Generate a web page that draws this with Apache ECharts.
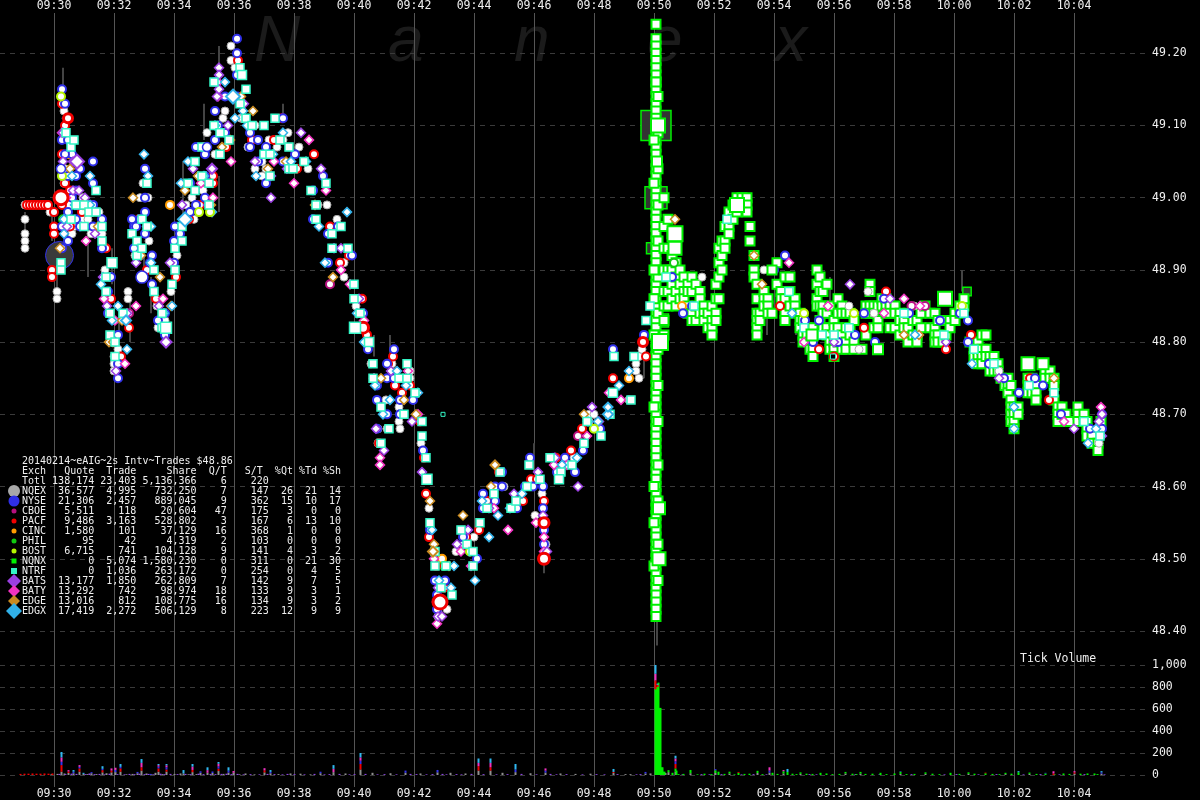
<!DOCTYPE html>
<html><head><meta charset="utf-8">
<style>html,body{margin:0;padding:0;background:#000}#c{width:1200px;height:800px}</style>
<script src="https://cdn.jsdelivr.net/npm/echarts@6/dist/echarts.min.js"></script>
</head><body><div id="c"></div>
<script>
// Time is seconds from 09:30:00, price is in cents. Each row: [second, cents, cents, ...]
const exchNames = ['NQEX','NYSE','CBOE','PACF','CINC','PHIL','BOST','NQNX','NTRF','BATS','BATY','EDGE','EDGX'];
const quotes = ['36,577','21,306','5,511','9,486','1,580','95','6,715','0','0','13,177','13,292','13,016','17,419'];
const trades = ['4,995','2,457','118','3,163','101','42','741','5,074','1,036','1,850','742','812','2,272'];
const shares = ['732,250','889,045','20,604','528,802','37,129','4,319','104,128','1,580,230','263,172','262,809','98,974','108,775','506,129'];
const qPerT = ['7','9','47','3','16','2','9','0','0','7','18','16','8'];
const sPerT = ['147','362','175','167','368','103','141','311','254','142','133','134','223'];
const pctQt = ['26','15','3','6','1','0','4','0','0','9','9','9','12'];
const pctTd = ['21','10','0','13','0','0','3','21','4','7','3','3','9'];
const pctSh = ['14','17','0','10','0','0','2','30','5','5','1','2','9'];
const totals = ['Totl','138,174','23,403','5,136,366','6','220'];
const titleText = '20140214~eAIG~2s Intv~Trades $48.86';
const watermark = ['N','a','n','e','x'];

const nqex = [[-58,4899,4897,4895,4894,4893],[-8,4898],[6,4887,4886],[20,4912,4902,4896],[30,4906,4899],[40,4896],[58,4900,4897],[74,4895],[90,4898,4895],[102,4890],[120,4883,4878,4877,4876],[148,4887,4886,4884],[162,4892],[178,4902],[190,4894],[206,4885],[222,4883],[234,4887],[246,4892],[264,4899],[280,4897],[298,4901],[306,4909],[326,4906],[338,4911],[354,4921,4919],[362,4918],[374,4911],[388,4907],[402,4910,4904],[416,4905,4903],[430,4908],[446,4907],[468,4909],[490,4907],[508,4904],[528,4899],[546,4899],[566,4897],[580,4891,4889],[604,4885],[634,4877],[648,4868,4866],[664,4872],[676,4877],[690,4871,4869],[712,4876,4875],[734,4866],[750,4857],[768,4843,4842],[786,4843],[804,4851],[820,4852],[840,4853],[860,4857],[878,4860],[900,4860],[932,4858],[950,4860],[962,4856],[976,4859],[984,4852],[1040,4864],[1070,4870,4869],[1080,4870],[1150,4872],[1164,4877,4876],[1170,4878,4875],[1176,4879],[1296,4889],[1420,4890],[1610,4879],[1640,4884],[1720,4885],[1890,4876],[1960,4875],[2090,4866],[22,4904],[36,4895],[68,4897],[96,4895],[108,4886],[128,4879],[172,4900],[188,4900],[208,4882],[276,4900],[322,4906],[342,4912],[378,4911],[424,4904],[458,4908],[666,4868],[692,4868],[1628,4887],[1590,4885]];
const nyse = [[16,4915,4908,4903,4896,4893],[28,4908,4903,4898],[36,4906,4900],[44,4901,4897],[52,4904,4899,4896],[78,4905,4902,4899,4896],[96,4893],[108,4887,4884],[128,4881,4877,4875],[160,4896,4893],[172,4897,4892],[182,4900,4895],[196,4892,4888],[208,4883],[222,4884,4881],[240,4894,4891],[252,4895],[272,4902,4898],[284,4907,4899],[302,4906,4900],[322,4912,4908],[342,4914,4909],[366,4922],[392,4909],[408,4908,4905],[424,4907,4902],[458,4911,4905],[482,4906],[518,4901,4897],[538,4903],[548,4895,4891],[568,4896],[596,4892],[618,4884],[628,4879],[646,4872,4868],[666,4875,4870],[680,4879,4875],[692,4872],[718,4872],[738,4865],[752,4854],[766,4845],[782,4847],[818,4853],[832,4851],[846,4850],[858,4859,4857],[882,4860,4858],[896,4862,4860],[926,4857],[942,4860],[952,4864],[958,4860],[978,4860,4857],[980,4854,4852],[998,4864],[1006,4862],[1022,4864],[1042,4862],[1058,4865],[1092,4868],[1118,4879],[1180,4881],[1462,4892],[1502,4883],[1518,4880],[1568,4880],[1602,4881],[1642,4880],[1710,4884],[1812,4884],[1828,4883,4880],[1900,4875],[1962,4875],[2014,4870],[2096,4870,4868],[22,4913,4906],[28,4894],[44,4903],[68,4899],[96,4897],[114,4889],[120,4880],[156,4897],[164,4896],[182,4904,4898],[192,4891],[242,4896],[302,4903],[322,4916],[328,4910],[366,4920,4917,4914],[392,4907],[646,4874],[666,4877],[692,4870],[762,4847],[766,4843],[1236,4889],[1258,4884],[1276,4885],[1440,4890],[1530,4883],[1620,4884],[1660,4886],[1772,4883],[1870,4877],[1930,4873],[1978,4874],[2072,4868]];
const pacf = [[-54,4899],[-48,4899],[-42,4899],[-36,4899],[-30,4899],[-24,4899],[-18,4899],[-12,4899],[0,4898,4896,4895],[-4,4890,4889],[16,4913,4906,4899],[22,4910,4902],[32,4901,4896],[56,4898],[76,4899],[104,4893],[114,4886],[134,4878],[150,4882],[170,4897],[186,4890],[204,4886],[226,4882],[244,4889],[270,4897],[292,4899],[318,4902,4903],[344,4907],[368,4919],[396,4908],[440,4908],[456,4911],[486,4904],[520,4906],[552,4896],[572,4891],[590,4892],[616,4886],[626,4881],[650,4866],[668,4877],[678,4878],[682,4874],[696,4873],[712,4874],[732,4869],[740,4864],[744,4859],[750,4853],[764,4849],[780,4846],[824,4853],[850,4854],[866,4858],[890,4862],[938,4858],[954,4861],[966,4861],[980,4858],[1004,4864],[1034,4865],[1056,4868],[1118,4875,4873],[1184,4878],[1452,4885],[1530,4879],[1560,4878],[1620,4882],[1664,4887],[1784,4879],[1834,4881],[1952,4875],[1990,4872]];
const bats = [[12,4900],[18,4909,4905],[26,4896],[38,4905,4901],[50,4901],[62,4900],[82,4895],[98,4889],[106,4885],[124,4876],[146,4884],[164,4891],[186,4896],[210,4885],[232,4891],[256,4899],[278,4904],[308,4899],[326,4914],[330,4918,4917,4915],[348,4910],[380,4913],[402,4905],[434,4903,4900],[466,4904],[494,4909],[534,4904],[560,4893],[574,4893],[610,4886],[644,4868],[660,4865],[674,4876],[716,4869],[736,4862],[768,4846,4842],[776,4842],[806,4852],[828,4854],[870,4857],[920,4859],[968,4862],[978,4856],[986,4851],[1002,4864],[1048,4860],[1076,4871],[1090,4869],[1560,4880],[1592,4888],[1672,4886],[1784,4880],[1890,4875],[2040,4868],[2090,4869],[2096,4870,4867]];
const baty = [[16,4909],[24,4900],[46,4899],[64,4894],[100,4886],[122,4883],[142,4877],[164,4885],[218,4886],[294,4902],[318,4900],[328,4916,4914],[354,4905],[440,4905],[480,4902],[510,4908],[544,4901],[574,4890],[592,4888],[620,4883],[640,4875],[652,4864,4863],[708,4876],[728,4870],[760,4850],[766,4844,4841],[814,4851],[834,4849],[880,4857],[908,4854],[964,4855],[980,4853,4851],[1000,4863],[1026,4863],[1066,4867],[1110,4873],[1134,4872],[1470,4891],[1500,4880],[1548,4885],[1660,4884],[1700,4886],[1732,4885],[2020,4869],[2094,4871]];
const edge = [[12,4893],[32,4904],[58,4899],[88,4896],[110,4880],[118,4880],[136,4883],[158,4900],[174,4892],[212,4889],[234,4885],[262,4901],[288,4903],[314,4899],[336,4907],[352,4908],[374,4914],[398,4912],[428,4904],[464,4905],[522,4899],[558,4889],[654,4875],[700,4872],[724,4870],[752,4858],[760,4852],[790,4849],[818,4856],[874,4860],[1060,4870],[1242,4897],[1400,4892],[1416,4888],[1700,4881],[1730,4881],[2000,4875]];
const edgx = [[20,4897,4895],[36,4903],[42,4899],[72,4899],[94,4888],[116,4883],[128,4885],[146,4879],[180,4906],[194,4896,4891],[220,4884],[254,4902],[268,4905],[300,4903],[316,4898],[322,4910],[362,4911],[386,4910],[404,4903],[438,4906],[474,4905],[504,4905],[530,4896],[542,4891],[586,4898],[606,4884],[620,4880],[642,4874],[658,4870],[672,4872],[704,4874],[728,4873],[756,4854],[770,4847],[794,4846],[800,4849],[842,4847],[856,4858],[870,4853],[888,4856],[912,4857],[936,4859],[1016,4863],[1046,4864],[1068,4869],[1088,4869],[1130,4874],[1150,4876],[1476,4884],[1722,4881],[1836,4877],[1920,4871],[1920,4868],[2068,4866],[2084,4868],[26,4911],[72,4903],[188,4903],[236,4885],[342,4916],[378,4912],[458,4909],[686,4876]];
const cboe = [[8,4900],[150,4884],[300,4907],[552,4888],[1048,4867],[1742,4885],[1715,4885]];
const cinc = [[30,4906],[232,4899],[776,4850],[1150,4875],[1256,4885]];
const phil = [[18,4897],[780,4849],[1240,4891]];
const bost = [[14,4914],[16,4903],[290,4898],[312,4898],[832,4851],[1080,4868],[1500,4884],[1600,4884],[1816,4885]];
const nqnx = [[1204,4924,4922,4921,4920,4919,4918,4917,4916,4915,4914,4913,4912,4911,4910,4909,4908,4907,4906,4905,4904,4903,4902,4901,4900,4899,4898,4897,4896,4895,4894,4893,4892,4891,4890,4889,4888,4887,4886,4885,4884,4883,4882,4881,4880,4879,4878,4877,4876,4875,4874,4873,4872,4871,4870,4869,4868,4867,4866,4865,4864,4863,4862,4861,4860,4859,4858,4857,4856,4855,4854,4853,4852,4851,4850,4849,4848,4847,4846,4845,4844,4843,4842],[1208,4914,4909,4904,4899,4894,4889,4884,4879,4874,4869,4863,4858,4852,4847],[1200,4908,4902,4890,4886,4881,4871,4860,4855,4849],[1220,4900,4896,4893,4890,4887,4885,4883,4881],[1228,4897,4893,4890,4889,4887,4885],[1236,4895,4892,4890,4888,4886],[1244,4894,4891,4889,4887,4885],[1252,4890,4888,4886],[1260,4889,4887,4886],[1268,4888,4887,4885,4884],[1276,4889,4887,4884,4883],[1284,4888,4885,4883],[1292,4887,4886,4884],[1300,4885,4884,4883],[1308,4884,4882],[1316,4885,4883,4882,4881],[1324,4888,4886,4884,4883],[1330,4893,4891,4889,4886],[1336,4894,4892,4890],[1342,4896,4894,4893],[1350,4898,4896,4895],[1358,4899,4897],[1366,4900,4898],[1376,4900,4899],[1386,4900,4899,4898],[1392,4896,4894],[1400,4892,4890,4889],[1406,4888,4886,4884,4883,4882,4881],[1412,4884,4883],[1420,4887,4886,4885],[1428,4886,4885,4884],[1436,4884],[1446,4891,4888],[1454,4887,4886],[1462,4889,4886,4884,4883],[1472,4889,4887,4885],[1482,4886,4885,4884],[1492,4884,4883,4882],[1498,4883,4881,4880],[1506,4882,4881],[1512,4880,4879],[1518,4882,4881,4879,4878],[1526,4890,4888,4886,4885],[1532,4889,4887,4885,4883],[1538,4887,4885,4884,4882],[1546,4888,4884,4882,4881],[1552,4885,4881,4880,4879],[1560,4883,4882,4880,4879,4878],[1568,4886,4884,4882,4880],[1576,4885,4884,4881,4879],[1584,4884,4882,4880,4879],[1592,4884,4882,4881],[1600,4883,4880,4879],[1616,4879],[1624,4885,4884,4881],[1632,4888,4887,4885,4884],[1640,4885,4884,4882],[1648,4885,4883,4882],[1656,4886,4885],[1664,4886,4885,4884],[1672,4885,4884,4882],[1682,4885,4884,4882],[1692,4884,4883,4881],[1700,4883,4882],[1708,4884,4882,4880],[1718,4883,4881],[1726,4883,4881,4880],[1734,4884,4882],[1742,4885],[1752,4884,4882],[1762,4884,4882,4881,4880],[1768,4883,4881,4880],[1778,4880],[1784,4883,4881],[1792,4883,4882],[1802,4884,4883],[1812,4884,4885],[1820,4885,4886],[1832,4880],[1840,4879,4878],[1848,4880,4879,4878,4877],[1856,4881,4879,4878,4877],[1864,4881,4879,4878],[1872,4878,4877,4876],[1880,4878,4877,4876],[1888,4877,4876],[1894,4875],[1902,4874],[1908,4875,4874,4873],[1914,4874,4872,4871,4870,4869],[1920,4871,4870,4869,4868],[1928,4871,4870],[1948,4875,4874,4873],[1956,4875,4873],[1964,4874,4873,4872],[1982,4876,4875],[1992,4876,4875],[2000,4875,4874,4872],[2008,4871,4870,4869],[2016,4871,4870],[2024,4870,4869],[2032,4869],[2048,4871,4870,4869],[2060,4870,4869],[2066,4869,4868,4867],[2076,4867,4866],[2088,4866,4865],[2094,4869]];
const ntrf = [[14,4891,4890],[24,4909],[34,4907,4897],[44,4899],[60,4899,4896],[70,4898],[84,4901,4898],[96,4896,4894],[104,4889,4887],[112,4884,4881],[122,4880,4878],[138,4884],[156,4895],[166,4894,4892],[176,4897,4893],[186,4902,4896],[200,4890,4887],[216,4884,4882],[236,4888],[242,4893,4890],[256,4896,4894],[268,4902],[282,4905,4901],[296,4907,4903],[310,4902,4899],[320,4916,4910],[332,4909,4906],[350,4908],[372,4918,4913],[384,4915,4911],[396,4910],[420,4910,4906],[432,4906,4903],[442,4911],[452,4908],[470,4907,4904],[478,4904],[500,4905],[514,4901],[524,4899,4897],[544,4902],[556,4895,4893],[574,4896],[588,4893],[600,4888,4886],[612,4884],[638,4877,4875],[654,4871,4866],[670,4868],[690,4875],[700,4870],[706,4877,4875],[722,4873],[736,4869,4867],[744,4864],[752,4855],[762,4851,4849],[774,4846],[784,4849],[796,4845],[814,4854],[826,4852],[838,4851,4849],[852,4855],[866,4857],[880,4859],[892,4862],[914,4857],[924,4858],[946,4860],[950,4863],[972,4861],[992,4864],[1014,4862],[1036,4863],[1060,4866],[1066,4869],[1094,4867],[1112,4870],[1120,4878],[1154,4872],[1160,4878],[1184,4883],[1192,4885],[1224,4889],[1240,4893],[1280,4885],[1346,4897],[1372,4899],[1470,4887],[1500,4882],[1536,4881],[1560,4881],[1590,4882],[1700,4884],[1780,4881],[1820,4884],[1840,4879],[1880,4877],[1950,4874],[2000,4873],[2060,4869],[2092,4867]];

// Large prints: [second, cents, shares]
const nyseBlocks = [[14,4904,8100],[176,4889,14400],[306,4907,8100]];
const pacfBlocks = [[14,4900,19600],[28,4911,8100],[618,4882,12100],[772,4844,19600],[980,4850,12100],[980,4855,10000],[1178,4880,8100]];
const ntrfBlocks = [[40,4908,6400],[116,4891,10000],[224,4882,12100],[376,4917,8100],[602,4882,12100],[630,4880,8100],[746,4861,10000],[1118,4873,8100],[1010,4861,8100]];
const batsBlocks = [[46,4905,19600],[224,4880,12100],[316,4904,10000]];
const edgxBlocks = [[144,4883,10000],[262,4897,19600],[358,4914,19600],[1108,4870,10000],[1108,4871,8100]];
const edgeBlocks = [[758,4851,10000],[882,4863,8100]];
const nqnxBlocks = [[1204,4916,8100],[1208,4910,19600],[1206,4905,10000],[1212,4880,25600],[1210,4857,14400],[1210,4850,16900],[1242,4895,22500],[1242,4893,16900],[1366,4899,19600],[1782,4886,19600],[1948,4877,16900],[1978,4877,12100],[1516,4881,12100],[1648,4879,10000],[1436,4890,8100]];
const nyseOpenBlock = [[11,4892,78400]];
const nqnxDarkBlocks = [[1204,4910,90000],[1204,4900,48400],[1216,4883,16900],[1196,4893,12100],[1826,4887,7000]];
const ntrfHollow = [[778,4870,1600],[1558,4878,2500]];
const wicks = [[-58,4898,4893],[-4,4899,4894],[6,4893,4886],[18,4918,4915],[68,4895,4889],[116,4893,4888],[130,4885,4878],[152,4886,4880],[180,4893,4890],[194,4889,4884],[258,4905,4897],[330,4921,4918],[458,4913,4911],[300,4913,4908],[330,4903,4898],[640,4881,4878],[672,4881,4877],[980,4850,4848],[1180,4879,4875],[1426,4885,4881],[1484,4885,4881],[1816,4890,4887],[1552,4889,4883],[1206,4842,4838],[960,4866,4862]];

// Tick volume per exchange: [second, trades]
const volGray = [[-6,8],[6,10],[14,30],[20,14],[28,18],[38,16],[50,30],[58,10],[66,8],[74,16],[84,8],[96,24],[104,16],[114,24],[122,26],[132,30],[144,6],[156,10],[166,16],[174,40],[184,14],[194,6],[202,20],[208,30],[216,8],[224,30],[240,10],[252,14],[258,14],[268,6],[276,26],[284,8],[292,20],[306,20],[316,18],[328,36],[338,10],[348,22],[358,20],[370,6],[382,14],[400,6],[420,24],[432,16],[448,8],[472,14],[492,12],[512,6],[532,16],[558,26],[582,14],[612,50],[636,20],[672,16],[702,20],[732,14],[766,24],[792,20],[822,14],[848,40],[872,40],[896,20],[922,26],[952,16],[982,22],[1012,14],[1042,10],[1072,12],[1118,18],[1142,8],[1152,8],[1182,14],[1192,14],[1222,18],[1228,26],[1242,30],[1272,16],[1322,18],[1350,14],[1406,18],[1430,22],[1458,14],[1492,10],[1582,14],[1612,12],[1692,10],[1742,10],[1828,10],[1902,8],[1950,10],[2040,12],[2094,12]];
const volGreen = [[1202,780],[1204,800],[1206,800],[1208,840],[1210,610],[1212,610],[1214,70],[1216,70],[1218,30],[1220,30],[1228,18],[1236,20],[1242,30],[1244,40],[1272,30],[1322,25],[1328,30],[1350,16],[1368,20],[1406,20],[1436,20],[1458,20],[1466,28],[1492,14],[1532,20],[1582,14],[1612,16],[1652,20],[1692,20],[1742,14],[1792,20],[1828,14],[1862,16],[1902,12],[1928,25],[1950,12],[1982,14],[2018,14],[2066,14],[2080,14],[1248,8],[1258,10],[1286,6],[1300,12],[1314,8],[1340,10],[1360,6],[1380,10],[1390,12],[1416,8],[1446,10],[1476,12],[1484,8],[1504,12],[1516,10],[1544,14],[1556,8],[1570,10],[1596,12],[1604,8],[1622,10],[1636,12],[1664,8],[1680,14],[1704,8],[1720,10],[1756,12],[1770,8],[1810,10],[1840,12],[1876,10],[1890,8],[1914,12],[1964,10],[2000,8],[2030,10],[2052,12],[2086,8]];
const volRed = [[-68,10],[-60,12],[-52,12],[-44,14],[-36,12],[-28,12],[-20,14],[-12,12],[-4,14],[14,60],[28,14],[50,30],[96,20],[114,16],[132,30],[174,30],[208,30],[224,20],[276,20],[328,22],[420,18],[612,50],[848,40],[872,30],[1118,10],[1202,80],[1206,20],[1242,40],[1368,8],[1862,6],[1998,14],[2040,12]];
const volBlue = [[14,30],[38,14],[50,14],[74,10],[96,12],[122,20],[132,14],[166,12],[192,10],[208,16],[224,20],[292,14],[316,14],[328,20],[348,18],[432,12],[532,14],[612,30],[702,20],[766,22],[922,24],[982,18],[1182,14],[1242,24],[1322,10],[1430,18],[1692,5],[1982,6],[2094,12]];
const volPurple = [[10,10],[22,8],[34,12],[44,10],[62,8],[70,14],[80,8],[90,10],[100,6],[110,12],[126,8],[140,6],[150,10],[160,8],[170,12],[180,8],[188,10],[198,6],[212,12],[220,8],[232,10],[246,8],[262,10],[272,8],[288,12],[298,8],[312,10],[322,8],[334,10],[344,12],[354,8],[366,10],[378,6],[392,8],[410,6],[426,10],[440,8],[456,6],[466,10],[480,8],[500,6],[520,10],[540,6],[550,8],[570,10],[590,6],[600,8],[622,10],[646,6],[660,8],[684,6],[712,10],[724,8],[744,6],[756,8],[776,10],[784,6],[804,8],[814,6],[834,10],[858,8],[884,6],[906,8],[934,10],[964,6],[992,10],[1004,6],[1024,8],[1056,6],[1084,8],[1100,6],[1126,8],[1164,6],[1172,8],[1256,6],[1294,8],[1310,6],[1334,8],[1374,6],[1398,8],[1424,6],[1510,8],[1524,6],[1602,8],[1650,6],[1714,8],[1780,6],[1804,8],[1848,6],[1884,8],[1938,6],[1972,8],[2010,6],[2060,8],[2100,6]];
const volPink = [[14,40],[28,12],[50,16],[114,20],[122,20],[174,40],[208,14],[224,18],[276,30],[306,24],[328,24],[358,16],[420,20],[558,30],[612,30],[848,30],[872,40],[982,20],[1202,60],[1242,26],[1430,30],[1458,11],[1998,20],[2040,11]];
const volCyan = [[14,49],[38,15],[58,10],[96,24],[132,26],[174,35],[208,10],[224,12],[258,31],[276,24],[306,26],[328,16],[348,30],[432,17],[558,34],[612,40],[848,40],[872,40],[922,50],[1118,27],[1202,107],[1206,10],[1242,25],[1466,27],[1928,10],[2094,11]];

const cents = c => +(c / 100).toFixed(2);
const flat = rows => rows.flatMap(r => r.slice(1).map(c => [r[0], cents(c)]));
const blocks = rows => rows.map(r => [r[0], cents(r[1]), r[2]]);
const blockSize = v => Math.sqrt(v[2]) / 10;
const MONO = '"DejaVu Sans Mono","Liberation Mono",monospace';
const palette = {NQEX:'#a8a8a8',NYSE:'#2f2fe8',CBOE:'#b5107f',PACF:'#f00000',CINC:'#ff9c00',PHIL:'#10c810',BOST:'#b4f500',NQNX:'#00f000',NTRF:'#33f5c5',BATS:'#9a3fe0',BATY:'#f032c0',EDGE:'#c88a20',EDGX:'#30b0e8'};
const diamond = 'diamond', dot = 'circle', box = 'rect';

const binTimes = [];
for (let t = -108; t < 2186; t += 2) binTimes.push(t);
const toBins = rows => { const m = new Map(rows); return binTimes.map(t => m.get(t) || 0); };

function tradeSeries(name, rows, symbol, size, lw){
  return {type:'scatter',name,xAxisIndex:0,yAxisIndex:0,symbol,symbolSize:size,data:flat(rows),animation:false,silent:true,
    itemStyle:{color:'#fff',borderColor:palette[name],borderWidth:lw,opacity:1}};
}
function blockSeries(name, rows, symbol, lw, fill){
  return {type:'scatter',name:name+' blocks',xAxisIndex:0,yAxisIndex:0,symbol,symbolSize:blockSize,data:blocks(rows),animation:false,silent:true,
    itemStyle:{color:fill||'#fff',borderColor:palette[name],borderWidth:lw,opacity:1}};
}
function volSeries(name, rows, color){
  return {type:'bar',name:'vol '+name,xAxisIndex:1,yAxisIndex:1,stack:'v',barWidth:2,data:toBins(rows),animation:false,silent:true,itemStyle:{color}};
}
const wickSeries = {type:'custom',xAxisIndex:0,yAxisIndex:0,silent:true,animation:false,clip:false,
  data:wicks.map(r=>[r[0],cents(r[1]),cents(r[2])]),
  renderItem:(p,api)=>{const a=api.coord([api.value(0),api.value(1)]),b=api.coord([api.value(0),api.value(2)]);
    return {type:'line',shape:{x1:a[0],y1:a[1],x2:b[0],y2:b[1]},style:{stroke:'#444',lineWidth:2}};}};

const series = [
  wickSeries,
  blockSeries('NYSE',nyseOpenBlock,dot,1,'#3a3a3a'),
  blockSeries('NQNX',nqnxDarkBlocks,box,1.5,'#333'),
  tradeSeries('NQNX',nqnx,box,9,2),
  tradeSeries('NQEX',nqex,dot,8,1),
  tradeSeries('CBOE',cboe,dot,8,2),
  tradeSeries('CINC',cinc,dot,8,2),
  tradeSeries('PHIL',phil,dot,8,2),
  tradeSeries('PACF',pacf,dot,8,2),
  tradeSeries('NYSE',nyse,dot,8,2),
  tradeSeries('BATY',baty,diamond,9,1.5),
  tradeSeries('BATS',bats,diamond,9,1.5),
  tradeSeries('EDGE',edge,diamond,9,1.5),
  tradeSeries('EDGX',edgx,diamond,9,1.5),
  tradeSeries('BOST',bost,dot,8,2),
  tradeSeries('NTRF',ntrf,box,8,1.5),
  blockSeries('NQNX',nqnxBlocks,box,2),
  blockSeries('NYSE',nyseBlocks,dot,1.5),
  blockSeries('PACF',pacfBlocks,dot,3),
  blockSeries('NTRF',ntrfBlocks,box,1.5),
  blockSeries('BATS',batsBlocks,diamond,2),
  blockSeries('EDGX',edgxBlocks,diamond,2),
  blockSeries('EDGE',edgeBlocks,diamond,2),
  blockSeries('NTRF',ntrfHollow,box,1,'#000'),
  volSeries('NQEX',volGray,'#909090'),volSeries('BATS',volPurple,'#8a45e0'),volSeries('NQNX',volGreen,palette.NQNX),volSeries('PACF',volRed,'#f00000'),
  volSeries('NYSE',volBlue,'#3333ee'),volSeries('BATY',volPink,palette.BATY),volSeries('EDGX',volCyan,'#30b8f0')
];

// Exchange table built from the arrays above
const pad = (s,n) => String(s).padStart(n,' ');
const rowStr = (n,q,t,sh,qt,st,a,b,c) => n+pad(q,8)+pad(t,7)+pad(sh,10)+pad(qt,5)+pad(st,7)+pad(a,4)+pad(b,4)+pad(c,4);
const rows = [titleText, 'Exch   Quote  Trade     Share  Q/T   S/T  %Qt %Td %Sh', rowStr(...totals,'','','')];
exchNames.forEach((n,i)=>rows.push(rowStr(n,quotes[i],trades[i],shares[i],qPerT[i],sPerT[i],pctQt[i],pctTd[i],pctSh[i])));
const graphic = rows.map((t,i)=>({type:'text',x:22,y:461+i*10,z:5,style:{text:t,fill:'#f0f0f0',font:'10px '+MONO,textVerticalAlign:'middle'}}));
const markStyle = ['c6','c5.5','c2.5','c2.5','c2.5','c2.5','c2.5','r5','r6','d7','d6','d6','d8'];
exchNames.forEach((n,i)=>{
  const cy = 491+i*10, cx = 14, k = markStyle[i][0], r = parseFloat(markStyle[i].slice(1)), fill = palette[n];
  if(k==='c') graphic.push({type:'circle',z:5,shape:{cx,cy,r},style:{fill}});
  if(k==='r') graphic.push({type:'rect',z:5,shape:{x:cx-r/2,y:cy-r/2,width:r,height:r},style:{fill}});
  if(k==='d') graphic.push({type:'polygon',z:5,shape:{points:[[cx,cy-r],[cx+r,cy],[cx,cy+r],[cx-r,cy]]},style:{fill}});
});
const wmX = [254,388,514,647,775];
watermark.forEach((t,i)=>graphic.push({type:'text',x:wmX[i],y:75,z:-1,style:{text:t,fill:'#1b1b1b',font:'italic 64px "Liberation Sans",sans-serif',textVerticalAlign:'bottom'}}));
graphic.push({type:'text',x:1020,y:659,z:5,style:{text:'Tick Volume',fill:'#f0f0f0',font:'11.5px '+MONO,textVerticalAlign:'middle'}});

const clock = s => { if(s<0) return ''; const m=570+s/60; return String(Math.floor(m/60)).padStart(2,'0')+':'+String(Math.round(m%60)).padStart(2,'0'); };
const dash = {show:true,lineStyle:{color:'#3a3a3a',type:[5,5],width:1}};
const labelCommon = {color:'#f0f0f0',fontFamily:MONO,fontSize:11.5};
const timeAxis = (position,margin) => ({type:'value',gridIndex:2,position,min:-120,max:2040,interval:120,axisLine:{show:false},axisTick:{show:false},
  splitLine:{show:position==='bottom',lineStyle:{color:'#555',width:1}},axisLabel:{...labelCommon,margin,formatter:clock,showMinLabel:false}});

const chart = echarts.init(document.getElementById('c'),null,{renderer:'canvas',width:1200,height:800});
chart.setOption({
  backgroundColor:'#000',animation:false,
  grid:[{left:0,right:53,top:-19,bottom:169,outerBoundsMode:'none'},{left:0,right:53,top:665,bottom:25,outerBoundsMode:'none'},{left:-6,right:126,top:13,bottom:13,outerBoundsMode:'none'}],
  xAxis:[{type:'value',gridIndex:0,min:-108,max:2186,show:false,splitLine:{show:false}},
    {type:'category',gridIndex:1,data:binTimes,show:false},
    timeAxis('bottom',1),timeAxis('top',1)],
  yAxis:[
    {type:'value',gridIndex:0,position:'right',min:48.4,max:49.3,interval:0.1,axisLine:{show:false},axisTick:{show:false},splitLine:dash,
      axisLabel:{...labelCommon,margin:5,formatter:v=>v.toFixed(2)}},
    {type:'value',gridIndex:1,position:'right',min:0,max:1000,interval:200,axisLine:{show:false},axisTick:{show:false},splitLine:dash,
      axisLabel:{...labelCommon,margin:5,formatter:v=>v.toLocaleString('en-US')}},
    {type:'value',gridIndex:2,show:false,min:0,max:1,splitLine:{show:false}}
  ],
  graphic:{elements:graphic},
  series
});
</script></body></html>
